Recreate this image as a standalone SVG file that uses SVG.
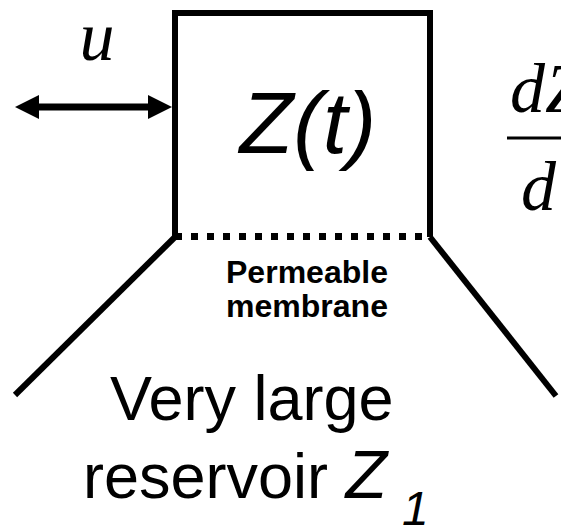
<svg xmlns="http://www.w3.org/2000/svg" width="561" height="525" viewBox="0 0 561 525">
<style>
.ln{stroke:#000;stroke-width:6;fill:none;stroke-linecap:butt;stroke-linejoin:miter}
.sans{font-family:"Liberation Sans",Arial,sans-serif;fill:#000}
.serif{font-family:"Liberation Serif","Times New Roman",serif;font-style:italic;fill:#000}
</style>
<rect width="561" height="525" fill="#fff"/>
<g id="box">
<polyline class="ln" points="175,237 175,13 430,13 430,237"/>
<line x1="175" y1="236.5" x2="430" y2="236.5" stroke="#000" stroke-width="7" stroke-dasharray="7 9"/>
<text class="sans" x="308" y="153" font-size="88" font-style="italic" text-anchor="middle">Z(t)</text>
</g>
<g id="reservoir">
<line class="ln" x1="175" y1="237" x2="15" y2="395"/>
<line class="ln" x1="430" y1="237" x2="556" y2="396"/>
<text class="sans" x="307" y="283" font-size="31" font-weight="bold" text-anchor="middle" textLength="162" lengthAdjust="spacingAndGlyphs">Permeable</text>
<text class="sans" x="307" y="317" font-size="31" font-weight="bold" text-anchor="middle" textLength="162" lengthAdjust="spacingAndGlyphs">membrane</text>
<text class="sans" x="110" y="420" font-size="63">Very large</text>
<text class="sans" x="83" y="498" font-size="63">reservoir <tspan font-style="italic" font-size="68">Z</tspan></text>
<text class="sans" x="402" y="525" font-size="48" font-style="italic">1</text>
</g>
<g id="equation">
<text class="serif" x="510" y="112" font-size="70">dZ</text>
<line x1="507" y1="138" x2="561" y2="138" stroke="#000" stroke-width="3"/>
<text class="serif" x="521" y="210" font-size="70">d</text>
</g>
<g id="connectors">
<line x1="35" y1="107" x2="152" y2="107" stroke="#000" stroke-width="7"/>
<polygon points="15,107 39,95 39,119"/>
<polygon points="172,107 148,95 148,119"/>
<text class="serif" x="97" y="60" font-size="70" text-anchor="middle">u</text>
</g>
</svg>
